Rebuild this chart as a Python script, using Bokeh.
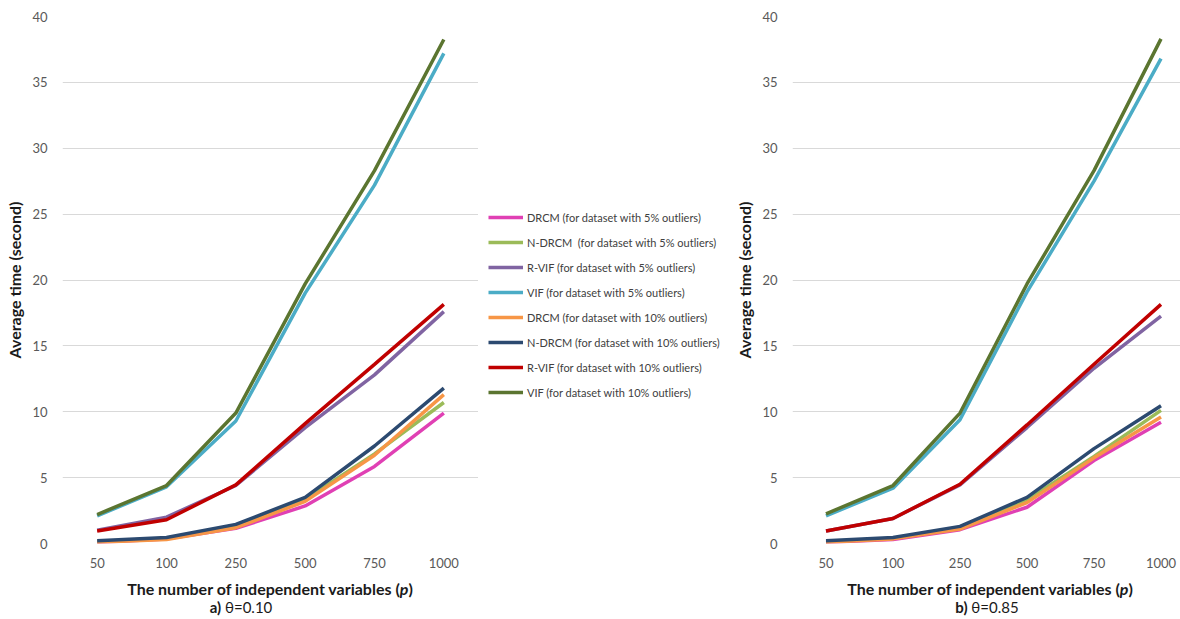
from bokeh.plotting import figure
from bokeh.layouts import row, column
from bokeh.models import Legend, LegendItem, FixedTicker, Range1d, Div
from bokeh.embed import file_html
from bokeh.resources import INLINE

# ---------------- data ----------------
p_labels = ["50", "100", "250", "500", "750", "1000"]
y_ticks = [0, 5, 10, 15, 20, 25, 30, 35, 40]

series_names = [
    "DRCM (for dataset with 5% outliers)",
    "N-DRCM  (for dataset with 5% outliers)",
    "R-VIF (for dataset with 5% outliers)",
    "VIF (for dataset with 5% outliers)",
    "DRCM (for dataset with 10% outliers)",
    "N-DRCM (for dataset with 10% outliers)",
    "R-VIF (for dataset with 10% outliers)",
    "VIF (for dataset with 10% outliers)",
]
series_colors = ["#E040B4", "#9BBB59", "#8064A2", "#4BACC6",
                 "#F79646", "#2C4A70", "#C00000", "#5B7530"]

# a) theta = 0.10
a_drcm_5 = [0.10, 0.35, 1.15, 2.85, 5.85, 9.90]
a_ndrcm_5 = [0.15, 0.40, 1.35, 3.35, 6.80, 10.70]
a_rvif_5 = [1.00, 2.00, 4.40, 8.80, 12.80, 17.60]
a_vif_5 = [2.10, 4.30, 9.30, 19.00, 27.20, 37.20]
a_drcm_10 = [0.10, 0.30, 1.20, 3.20, 6.70, 11.30]
a_ndrcm_10 = [0.20, 0.45, 1.45, 3.50, 7.40, 11.80]
a_rvif_10 = [0.95, 1.80, 4.45, 9.10, 13.60, 18.15]
a_vif_10 = [2.20, 4.40, 9.90, 19.70, 28.30, 38.25]

# b) theta = 0.85
b_drcm_5 = [0.10, 0.30, 1.05, 2.75, 6.30, 9.20]
b_ndrcm_5 = [0.15, 0.40, 1.20, 3.30, 6.60, 10.10]
b_rvif_5 = [0.95, 1.90, 4.45, 8.80, 13.30, 17.25]
b_vif_5 = [2.10, 4.20, 9.40, 19.10, 27.50, 36.80]
b_drcm_10 = [0.10, 0.35, 1.10, 3.10, 6.50, 9.60]
b_ndrcm_10 = [0.20, 0.45, 1.30, 3.50, 7.20, 10.45]
b_rvif_10 = [0.95, 1.90, 4.50, 9.00, 13.60, 18.15]
b_vif_10 = [2.25, 4.40, 9.90, 19.70, 28.30, 38.30]

a_series = [a_drcm_5, a_ndrcm_5, a_rvif_5, a_vif_5,
            a_drcm_10, a_ndrcm_10, a_rvif_10, a_vif_10]
b_series = [b_drcm_5, b_ndrcm_5, b_rvif_5, b_vif_5,
            b_drcm_10, b_ndrcm_10, b_rvif_10, b_vif_10]

x_title = "The number of independent variables ("
x_title_var = "p"
caption_a = ("a)", "\u03b8=0.10")
caption_b = ("b)", "\u03b8=0.85")

FONT = "Lato"
xs = list(range(1, len(p_labels) + 1))
TOP, BOTTOM, FH = 16, 30, 527


def make_fig(left, fw, x_end):
    p = figure(frame_width=fw, frame_height=FH, x_range=Range1d(0.5, x_end),
               y_range=Range1d(0, 40), output_backend="svg",
               toolbar_location=None, min_border_left=left,
               min_border_right=0, min_border_top=TOP,
               min_border_bottom=BOTTOM)
    p.outline_line_color = None
    p.background_fill_color = "white"
    p.xgrid.grid_line_color = None
    p.ygrid.grid_line_color = "#D9D9D9"
    p.ygrid.grid_line_width = 1
    p.xaxis.ticker = FixedTicker(ticks=xs)
    p.xaxis.major_label_overrides = {x: lab for x, lab in zip(xs, p_labels)}
    p.yaxis.ticker = FixedTicker(ticks=y_ticks)
    for ax in (p.xaxis, p.yaxis):
        ax.axis_line_color = None
        ax.major_tick_line_color = None
        ax.minor_tick_line_color = None
        ax.major_tick_out = 0
        ax.major_tick_in = 0
        ax.major_label_text_font = FONT
        ax.major_label_text_font_size = "13px"
        ax.major_label_text_color = "#595959"
    p.xaxis.major_label_standoff = 14
    p.yaxis.major_label_standoff = 15
    p.yaxis.axis_label = "Average time (second)"
    p.yaxis.axis_label_text_font = FONT
    p.yaxis.axis_label_text_font_style = "bold"
    p.yaxis.axis_label_text_font_size = "16px"
    p.yaxis.axis_label_text_color = "#1A1A1A"
    p.yaxis.axis_label_standoff = 5
    return p


def add_lines(p, series):
    rends = []
    for vals, col in zip(series, series_colors):
        r = p.line(xs, vals, line_color=col, line_width=3.5)
        rends.append(r)
    return rends


def caption_div(width, pad_left, cap, cap_pad_right):
    html = (
        f'<div style="width:{width}px;box-sizing:border-box;font-family:Lato,sans-serif;'
        f'color:#1A1A1A;text-align:center;padding-left:{pad_left}px;padding-top:7px;">'
        f'<div style="font-weight:bold;font-size:16px;line-height:18px;'
        f'white-space:nowrap;">{x_title}<i>{x_title_var}</i>)</div>'
        f'<div style="font-size:15px;line-height:18px;padding-right:{cap_pad_right}px;'
        f'white-space:nowrap;"><b>{cap[0]}</b> {cap[1]}</div></div>'
    )
    return Div(text=html, width=width, height=45, margin=(0, 0, 0, 0))


# ---------------- left chart ----------------
fa = make_fig(62, 416, 6.5)
add_lines(fa, a_series)
div_a = caption_div(478, 62, caption_a, 58)

# ---------------- legend panel ----------------
fl = figure(width=254, height=TOP + FH + BOTTOM, x_range=Range1d(100, 101),
            y_range=Range1d(100, 101), x_axis_type=None, y_axis_type=None,
            output_backend="svg", toolbar_location=None,
            min_border_left=0, min_border_right=0,
            min_border_top=TOP, min_border_bottom=BOTTOM)
fl.outline_line_color = None
fl.xgrid.visible = False
fl.ygrid.visible = False
rends_l = add_lines(fl, a_series)
legend = Legend(
    items=[LegendItem(label=n, renderers=[r]) for n, r in zip(series_names, rends_l)],
    location=(10, 141), border_line_color=None, background_fill_alpha=0,
    padding=0, margin=0, spacing=5, glyph_width=35, glyph_height=20,
    label_height=20, label_standoff=4,
    label_text_font=FONT, label_text_font_size="11px",
    label_text_color="#404040")
fl.add_layout(legend, "center")

# ---------------- right chart ----------------
fb = make_fig(55, 393, 0.5 + 393 / 67.0)
add_lines(fb, b_series)
div_b = caption_div(448, 68, caption_b, 6)

layout = row(column(fa, div_a), fl, column(fb, div_b))
open("out.html", "w").write(file_html(layout, INLINE))
